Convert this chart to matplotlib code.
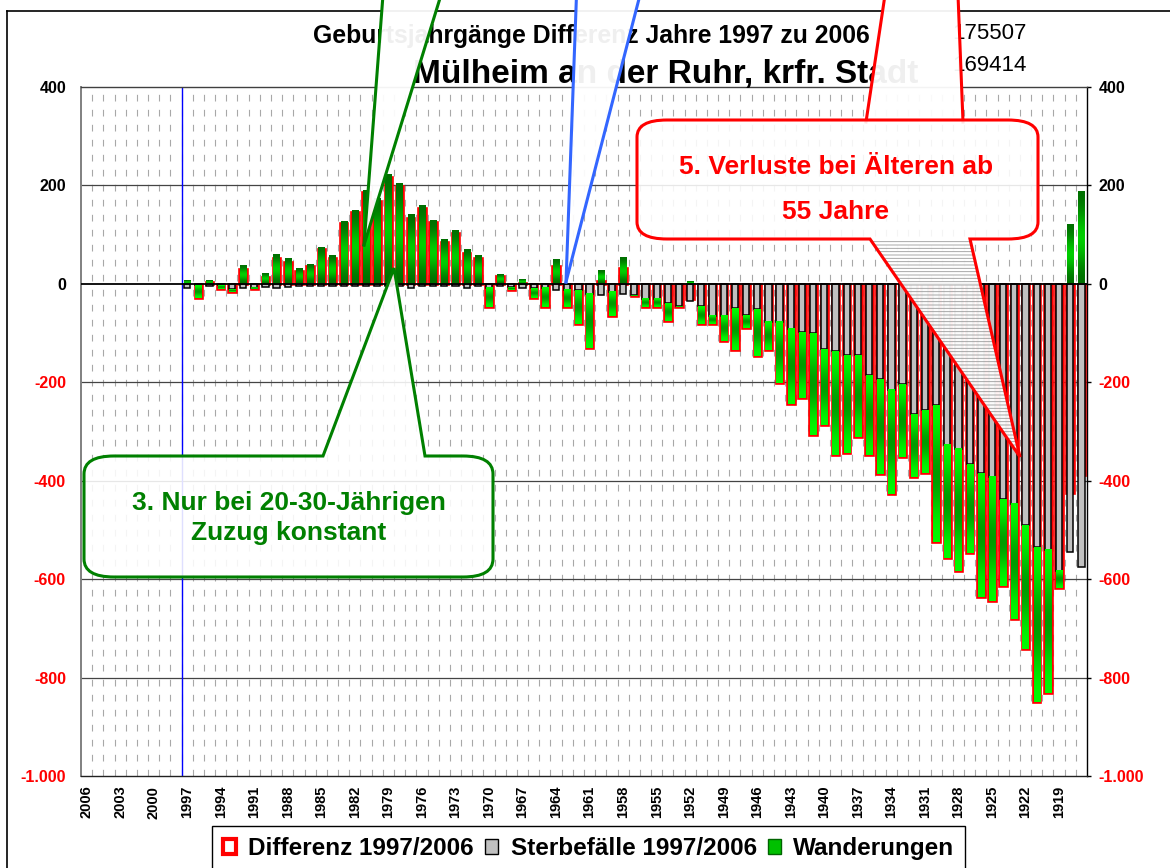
import numpy as np
import matplotlib
matplotlib.use('Agg')
import matplotlib.pyplot as plt
from matplotlib.path import Path
from matplotlib.patches import PathPatch, Patch, Polygon
from matplotlib.lines import Line2D
from matplotlib.colors import LinearSegmentedColormap
import matplotlib.transforms as mtransforms

plt.rcParams['font.family'] = ['Liberation Sans', 'DejaVu Sans']
plt.rcParams['hatch.linewidth'] = 0.6

# ---------------- data ----------------
years = list(range(2006, 1916, -1))          # category axis (birth cohorts)
tick_years = years[::3]
first_data_year = 1997                        # cohorts 2006..1998 have no values

sterbefaelle = [
    -8, -3, -5, -3, -10, -8, -8, -7, -8, -6,          # 1997-1988
    -5, -4, -4, -4, -4, -4, -4, -5, -5, -5,           # 1987-1978
    -8, -5, -5, -5, -5, -8, -5, -8, -5, -7,           # 1977-1968
    -8, -8, -8, -13, -12, -13, -20, -22, -16, -21,    # 1967-1958
    -23, -30, -30, -39, -45, -35, -45, -65, -65, -50, # 1957-1948
    -64, -52, -77, -77, -91, -98, -100, -133, -136, -145,   # 1947-1938
    -145, -186, -194, -215, -204, -265, -257, -247, -327, -336,  # 1937-1928
    -367, -385, -393, -438, -447, -491, -535, -540, -583, -545,  # 1927-1918
    -576,                                              # 1917
]
wanderungen = [
    8, -25, 8, -8, -6, 38, -3, 21, 60, 51,
    31, 40, 74, 57, 128, 150, 190, 173, 222, 204,
    141, 160, 130, 90, 108, 70, 58, -39, 20, -5,
    9, -20, -39, 49, -35, -69, -110, 28, -49, 54,
    -1, -17, -17, -36, -2, 5, -36, -17, -52, -85,
    -25, -95, -57, -124, -154, -133, -207, -153, -211, -199,
    -166, -161, -192, -213, -148, -128, -127, -278, -230, -248,
    -180, -251, -252, -175, -234, -251, -314, -292, -36, 121,
    187,
]
differenz = [
    0, -28, 3, -11, -16, 30, -11, 14, 52, 45,
    26, 36, 70, 53, 124, 146, 186, 168, 217, 199,
    133, 155, 125, 85, 103, 62, 53, -47, 15, -12,
    1, -28, -47, 36, -47, -82, -130, 6, -65, 33,
    -24, -47, -47, -75, -47, -30, -81, -82, -117, -135,
    -89, -147, -134, -201, -245, -231, -307, -286, -347, -344,
    -311, -347, -386, -428, -352, -393, -384, -525, -557, -584,
    -547, -636, -645, -613, -681, -742, -849, -832, -619, -424,
    -389,
]
series_labels = ['Differenz 1997/2006', 'Sterbefälle 1997/2006', 'Wanderungen']
title1 = 'Geburtsjahrgänge Differenz Jahre 1997 zu 2006'
title2 = 'Mülheim an der Ruhr, krfr. Stadt'
pop_1997 = '175507'
pop_2006 = '169414'
callout3 = ['3. Nur bei 20-30-Jährigen', 'Zuzug konstant']
callout5 = ['5. Verluste bei Älteren ab', '55 Jahre']

assert len(sterbefaelle) == len(wanderungen) == len(differenz) == first_data_year - years[-1] + 1

# ---------------- figure ----------------
W, H = 1170, 868
fig = plt.figure(figsize=(W / 100, H / 100), dpi=100)
tpx = mtransforms.Affine2D().scale(1 / W, -1 / H).translate(0, 1) + fig.transFigure

ax = fig.add_axes([81 / W, 1 - 776 / H, (1087 - 81) / W, (776 - 87) / H])
ax.set_facecolor('white')

start = years.index(first_data_year)
xpos = np.arange(start, start + len(differenz))
S = np.array(sterbefaelle, dtype=float)
Wd = np.array(wanderungen, dtype=float)
D = np.array(differenz, dtype=float)

# vertical dashed gridlines at category boundaries
for k in range(1, len(years)):
    ax.axvline(k - 0.5, color='#a8a8a8', lw=0.8, ls=(0, (6, 7.5)), zorder=0.5)
# horizontal gridlines
for v in [200, -200, -400, -600, -800]:
    ax.axhline(v, color='#444444', lw=0.9, zorder=1)
# blue axis-crossing line
ax.axvline(start - 0.5, color='#0000ff', lw=1.0, zorder=1.5)

BW = 0.56
# Differenz (red hollow bars, behind)
mask = D != 0
ax.bar(xpos[mask], D[mask], width=0.67, facecolor='none', edgecolor='#ff0000',
       linewidth=1.9, zorder=2)
# Sterbefaelle (grey)
ax.bar(xpos, S, width=BW, color='#c0c0c0', edgecolor='black', linewidth=1.1, zorder=3)
# Wanderungen (green, stacked below negative Sterbefaelle)
w_bottom = np.where(Wd < 0, S, 0)
wbars = ax.bar(xpos, Wd, bottom=w_bottom, width=BW, color='#00c000',
               edgecolor='none', linewidth=0, zorder=3.1)
cmap = LinearSegmentedColormap.from_list('gr', ['#006a00', '#00ff00'])
for x, b, h in zip(xpos, w_bottom, Wd):
    lo, hi = sorted([b, b + h])
    arr = np.array([[0.0], [1.0], [0.0]]) if h > 0 else np.array([[1.0], [0.0], [1.0]])
    ax.imshow(arr, cmap=cmap, vmin=0, vmax=1, extent=(x - BW / 2, x + BW / 2, lo, hi),
              aspect='auto', interpolation='bicubic', zorder=3.2)

ax.axhline(0, color='black', lw=1.3, zorder=4)

ax.set_xlim(-0.5, len(years) - 0.5)
ax.set_ylim(-1000, 400)
ax.set_aspect('auto')

# ticks
xt = [years.index(y) for y in tick_years]
ax.set_xticks(xt)
ax.set_xticklabels([str(y) for y in tick_years], rotation=90, fontsize=10.5, fontweight='bold')
ax.tick_params(axis='x', length=0, pad=7)
yt = list(range(-1000, 401, 200))
ax.set_yticks(yt)
ylab = ['-1.000' if v == -1000 else str(v) for v in yt]
ax.set_yticklabels(ylab, fontsize=11.5, fontweight='bold')
ax.tick_params(axis='y', left=False, right=True, labelleft=True, labelright=True,
               length=3, width=1, pad=5.5, direction='out')
for t, v in zip(ax.yaxis.get_major_ticks(), yt):
    c = '#ff0000' if v < 0 else 'black'
    t.label1.set_color(c)
    t.label2.set_color(c)
    t.label2.set_fontweight('bold')
    t.label2.set_fontsize(11.5)

ax.spines['left'].set_color('#808080'); ax.spines['left'].set_linewidth(1.4)
ax.spines['top'].set_color('#404040'); ax.spines['top'].set_linewidth(1.0)
ax.spines['bottom'].set_color('#202020'); ax.spines['bottom'].set_linewidth(1.0)
ax.spines['right'].set_color('black'); ax.spines['right'].set_linewidth(1.0)

offset = mtransforms.ScaledTranslation(-2.3 / 72, 0, fig.dpi_scale_trans)
for t in ax.yaxis.get_major_ticks():
    t.label1.set_transform(t.label1.get_transform() + offset)

# ---------------- chart area border ----------------
fig.add_artist(Line2D([7, 7], [11, H + 5], transform=tpx, color='black', lw=1.2, zorder=1))
fig.add_artist(Line2D([7, W + 5], [11, 11], transform=tpx, color='black', lw=1.2, zorder=1))

# ---------------- titles ----------------
def ftext(x, y, s, **kw):
    return fig.text(x / W, 1 - y / H, s, **kw)

ftext(313, 43, title1, fontsize=17.8, fontweight='bold', va='baseline', ha='left', zorder=1)
ftext(413, 83, title2, fontsize=24, fontweight='bold', va='baseline', ha='left', zorder=1)
ftext(1027, 39, pop_1997, fontsize=16, va='baseline', ha='right', zorder=1)
ftext(1027, 71, pop_2006, fontsize=16, va='baseline', ha='right', zorder=1)

# ---------------- callouts ----------------
FILL = (1, 1, 1, 0.88)
WFILL = (1, 1, 1, 0.94)

def callout_path(x0, y0, x1, y1, rx, ry, side=None, b0=None, b1=None, tip=None):
    V, C = [], []
    def mv(p): V.append(p); C.append(Path.MOVETO)
    def ln(p): V.append(p); C.append(Path.LINETO)
    def cv(c, p): V.extend([c, p]); C.extend([Path.CURVE3, Path.CURVE3])
    mv((x0 + rx, y0))
    if side == 'top':
        ln((b0, y0)); ln(tip); ln((b1, y0))
    ln((x1 - rx, y0))
    cv((x1, y0), (x1, y0 + ry))
    ln((x1, y1 - ry))
    cv((x1, y1), (x1 - rx, y1))
    if side == 'bottom':
        ln((b1, y1)); ln(tip); ln((b0, y1))
    ln((x0 + rx, y1))
    cv((x0, y1), (x0, y1 - ry))
    ln((x0, y0 + ry))
    cv((x0, y0), (x0 + rx, y0))
    V.append((x0 + rx, y0)); C.append(Path.CLOSEPOLY)
    return Path(V, C)

def wedge(p_left, p_right, ends, color, z=5):
    pts = [p_left, p_right] + list(ends)
    fig.add_artist(Polygon(pts, closed=True, transform=tpx, facecolor=WFILL,
                           edgecolor='none', zorder=z))
    fig.add_artist(Line2D([p_left[0], ends[-1][0]], [p_left[1], ends[-1][1]],
                          transform=tpx, color=color, lw=2.2, zorder=z + 0.1))
    fig.add_artist(Line2D([p_right[0], ends[0][0]], [p_right[1], ends[0][1]],
                          transform=tpx, color=color, lw=2.2, zorder=z + 0.1))

# pointers of callouts whose boxes lie above the picture
wedge((383, -5), (441, -5), [(364, 245)], '#008000')
wedge((576.5, -5), (640, -5), [(566, 282)], '#3366ff')
wedge((885, -5), (958, -5), [(963, 122), (866, 122)], '#ff0000')

# callout 3 (green)
p3 = callout_path(84, 456, 493, 577, 30, 18, side='top', b0=323, b1=425, tip=(394, 268))
fig.add_artist(PathPatch(p3, transform=tpx, facecolor=FILL, edgecolor='#008000', lw=2.2, zorder=6))
ftext(288.5, 503, callout3[0], fontsize=19, fontweight='bold', color='#008000',
      ha='center', va='center', zorder=7)
ftext(288.5, 533, callout3[1], fontsize=19, fontweight='bold', color='#008000',
      ha='center', va='center', zorder=7)

# callout 5 (red) - pointer area hatched like the original
hatch_poly = Polygon([(870, 239), (970, 239), (1020, 457)], closed=True, transform=tpx,
                     facecolor=(1, 1, 1, 0.95), edgecolor='#9a9a9a', hatch='-----', lw=0, zorder=5.9)
fig.add_artist(hatch_poly)
p5 = callout_path(637, 120, 1038, 239, 30, 17, side='bottom', b0=870, b1=970, tip=(1020, 457))
fig.add_artist(PathPatch(p5, transform=tpx, facecolor=(1, 1, 1, 0.0), edgecolor='#ff0000', lw=2.2, zorder=6))
box5 = callout_path(637, 120, 1038, 239, 30, 17)
fig.add_artist(PathPatch(box5, transform=tpx, facecolor=FILL, edgecolor='none', lw=0, zorder=5.95))
ftext(836, 167, callout5[0], fontsize=19, fontweight='bold', color='#ff0000',
      ha='center', va='center', zorder=7)
ftext(836, 212, callout5[1], fontsize=19, fontweight='bold', color='#ff0000',
      ha='center', va='center', zorder=7)

# ---------------- legend ----------------
handles = [Patch(facecolor='white', edgecolor='#ff0000', lw=3),
           Patch(facecolor='#c0c0c0', edgecolor='black', lw=1),
           Patch(facecolor='#00c000', edgecolor='#006400', lw=1)]
leg = fig.legend(handles, series_labels, loc='upper left', bbox_to_anchor=(212 / W, 1 - 826 / H),
                 ncol=3, frameon=True, fancybox=False, edgecolor='black', framealpha=1,
                 prop=dict(weight='bold', size=17.5), handlelength=0.55, handleheight=0.55,
                 handletextpad=0.5, columnspacing=0.45, borderpad=0.45, borderaxespad=0)
leg.get_frame().set_linewidth(1.0)

fig.savefig('out.png', dpi=100)
